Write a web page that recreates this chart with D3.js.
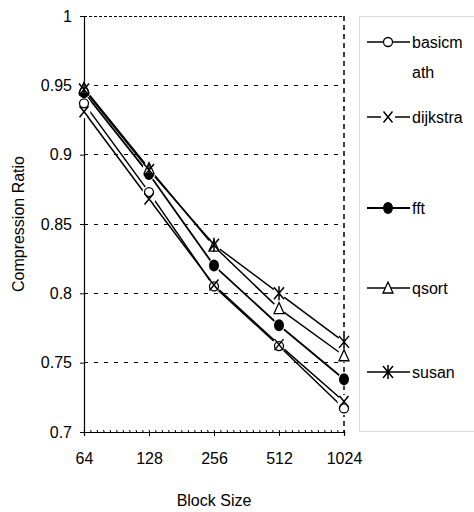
<!DOCTYPE html>
<html>
<head>
<meta charset="utf-8">
<script src="https://cdn.jsdelivr.net/npm/d3@7"></script>
<style>
  body { margin: 0; background: #fff; }
  text { font-family: "Liberation Sans", Arial, sans-serif; fill: #000; }
</style>
</head>
<body>
<div id="chart"></div>
<script>
// data
const blockSizes = [64, 128, 256, 512, 1024];
const yTicks = [0.7, 0.75, 0.8, 0.85, 0.9, 0.95, 1];
const yTickLabels = ['0.7', '0.75', '0.8', '0.85', '0.9', '0.95', '1'];
const seriesNames = ['basicmath', 'dijkstra', 'fft', 'qsort', 'susan'];
const basicmath = [0.937, 0.873, 0.805, 0.762, 0.717];
const dijkstra = [0.931, 0.868, 0.806, 0.763, 0.722];
const fft = [0.945, 0.886, 0.820, 0.777, 0.738];
const qsort = [0.948, 0.890, 0.834, 0.789, 0.755];
const susan = [0.947, 0.889, 0.835, 0.800, 0.765];
const seriesValues = [basicmath, dijkstra, fft, qsort, susan];

const width = 474;
const height = 512;
const plot = { left: 84, right: 344, top: 16, bottom: 432 };

const svg = d3
  .select('#chart')
  .append('svg')
  .attr('width', width)
  .attr('height', height);

const xScale = d3.scaleLog().base(2).domain([64, 1024]).range([plot.left, plot.right]);
const yScale = d3.scaleLinear().domain([0.7, 1]).range([plot.bottom, plot.top]);

// gridlines
svg
  .append('g')
  .selectAll('line')
  .data(yTicks.filter((t) => t > 0.7 && t < 1))
  .enter()
  .append('line')
  .attr('x1', plot.left)
  .attr('x2', plot.right)
  .attr('y1', (d) => yScale(d))
  .attr('y2', (d) => yScale(d))
  .attr('stroke', '#000')
  .attr('stroke-width', 1)
  .attr('stroke-dasharray', '4,6')
  .attr('shape-rendering', 'crispEdges');

// top border (dashed)
svg
  .append('line')
  .attr('x1', plot.left)
  .attr('x2', plot.right)
  .attr('y1', yScale(1))
  .attr('y2', yScale(1))
  .attr('stroke', '#000')
  .attr('stroke-dasharray', '3,2')
  .attr('shape-rendering', 'crispEdges');

// right border (dashed)
svg
  .append('line')
  .attr('x1', xScale(1024))
  .attr('x2', xScale(1024))
  .attr('y1', plot.top)
  .attr('y2', plot.bottom)
  .attr('stroke', '#000')
  .attr('stroke-width', 1.5)
  .attr('stroke-dasharray', '5,4');

// y axis
const yAxis = d3
  .axisLeft(yScale)
  .tickValues(yTicks)
  .tickFormat((d, i) => yTickLabels[i])
  .tickSize(4)
  .tickPadding(8);
const yAxisGroup = svg
  .append('g')
  .attr('transform', 'translate(' + plot.left + ',0)')
  .call(yAxis);
yAxisGroup.selectAll('text').style('font-size', '16px').attr('fill', '#000');
yAxisGroup.selectAll('line').attr('stroke', '#000');
yAxisGroup.select('.domain').attr('stroke', '#000').attr('stroke-width', 1.2);

// x axis
const xAxis = d3
  .axisBottom(xScale)
  .tickValues(blockSizes)
  .tickFormat(d3.format('d'))
  .tickSize(4)
  .tickPadding(17);
const xAxisGroup = svg
  .append('g')
  .attr('transform', 'translate(0,' + plot.bottom + ')')
  .call(xAxis);
xAxisGroup.selectAll('text').style('font-size', '16px').attr('fill', '#000');
xAxisGroup.selectAll('line').attr('stroke', '#000');
xAxisGroup.select('.domain').attr('stroke', '#000').attr('stroke-width', 1.2);

// minor ticks along x axis
const minorSteps = d3.range(0, 4.001, 0.1);
xAxisGroup
  .selectAll('.minor')
  .data(minorSteps)
  .enter()
  .append('line')
  .attr('class', 'minor')
  .attr('x1', (d) => xScale(64 * Math.pow(2, d)))
  .attr('x2', (d) => xScale(64 * Math.pow(2, d)) + 1)
  .attr('y1', -2)
  .attr('y2', 1)
  .attr('stroke', '#000')
  .attr('stroke-width', 1);

// axis titles
svg
  .append('text')
  .attr('transform', 'translate(24,' + (plot.top + plot.bottom) / 2 + ') rotate(-90)')
  .attr('text-anchor', 'middle')
  .style('font-size', '16px')
  .text('Compression Ratio');

svg
  .append('text')
  .attr('x', (plot.left + plot.right) / 2)
  .attr('y', 506)
  .attr('text-anchor', 'middle')
  .style('font-size', '16px')
  .text('Block Size');

// markers
const markerTypes = ['circle', 'x', 'dot', 'triangle', 'star'];
function drawMarker(g, type) {
  if (type === 'circle') {
    g.append('circle').attr('r', 4.5).attr('fill', '#fff').attr('stroke', '#000').attr('stroke-width', 1.3);
  } else if (type === 'dot') {
    g.append('ellipse').attr('rx', 5).attr('ry', 6).attr('fill', '#000');
  } else if (type === 'triangle') {
    g.append('path')
      .attr('d', 'M0,-6L5,5L-5,5Z')
      .attr('fill', '#fff')
      .attr('stroke', '#000')
      .attr('stroke-width', 1.3);
  } else if (type === 'x') {
    g.append('path')
      .attr('d', 'M-4.5,-5.5L4.5,5.5M4.5,-5.5L-4.5,5.5')
      .attr('stroke', '#000')
      .attr('stroke-width', 1.5);
  } else if (type === 'star') {
    g.append('path')
      .attr('d', 'M-5,-6L5,6M5,-6L-5,6M0,-7L0,7')
      .attr('stroke', '#000')
      .attr('stroke-width', 1.5);
  }
}

const line = d3
  .line()
  .x((d, i) => xScale(blockSizes[i]))
  .y((d) => yScale(d));

const seriesGroup = svg.append('g');
seriesValues.forEach((values, k) => {
  seriesGroup
    .append('path')
    .datum(values)
    .attr('fill', 'none')
    .attr('stroke', '#000')
    .attr('stroke-width', k === 2 ? 1.8 : 1.5)
    .attr('d', line);
});

// white halos behind markers break the lines, like the original
seriesValues.forEach((values) => {
  values.forEach((v, i) => {
    seriesGroup
      .append('circle')
      .attr('cx', xScale(blockSizes[i]))
      .attr('cy', yScale(v))
      .attr('r', 6.5)
      .attr('fill', '#fff');
  });
});
seriesValues.forEach((values, k) => {
  values.forEach((v, i) => {
    const g = seriesGroup
      .append('g')
      .attr('transform', 'translate(' + xScale(blockSizes[i]) + ',' + yScale(v) + ')');
    drawMarker(g, markerTypes[k]);
  });
});

// legend
const legend = svg.append('g');
legend
  .append('rect')
  .attr('x', 359.5)
  .attr('y', 16.5)
  .attr('width', 130)
  .attr('height', 415)
  .attr('fill', '#fff')
  .attr('stroke', '#d9d9d9')
  .attr('stroke-width', 1);

const legendY = [42, 117, 208, 288, 372];
const legendLabels = [['basicm', 'ath'], ['dijkstra'], ['fft'], ['qsort'], ['susan']];
legendY.forEach((y, k) => {
  const item = legend.append('g').attr('transform', 'translate(0,' + y + ')');
  item
    .append('line')
    .attr('x1', 367)
    .attr('x2', 410)
    .attr('y1', 0)
    .attr('y2', 0)
    .attr('stroke', '#000')
    .attr('stroke-width', k === 2 ? 1.8 : 1.5);
  const m = item.append('g').attr('transform', 'translate(388,0)');
  if (markerTypes[k] === 'x') {
    m.append('rect').attr('x', -7).attr('y', -2).attr('width', 14).attr('height', 4).attr('fill', '#fff');
  }
  drawMarker(m, markerTypes[k]);
  legendLabels[k].forEach((t, j) => {
    item
      .append('text')
      .attr('x', 412)
      .attr('y', 6 + j * 30)
      .style('font-size', '16px')
      .text(t);
  });
});
</script>
</body>
</html>
